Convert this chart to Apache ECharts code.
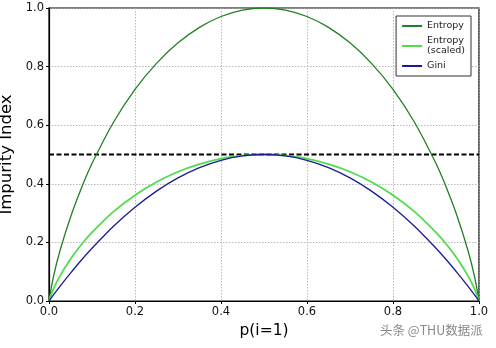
<!DOCTYPE html>
<html><head><meta charset="utf-8">
<script src="https://cdn.jsdelivr.net/npm/echarts@6/dist/echarts.min.js"></script>
<style>html,body{margin:0;padding:0;background:#fff}#c{width:496px;height:348px}</style>
</head><body><div id="c"></div>
<script>
const pValues = [0, 0.01, 0.025, 0.05, 0.075, 0.1, 0.15, 0.2, 0.25, 0.3, 0.35, 0.4, 0.45, 0.5, 0.55, 0.6, 0.65, 0.7, 0.75, 0.8, 0.85, 0.9, 0.925, 0.95, 0.975, 0.99, 1];
const entropyValues = [0, 0.081, 0.169, 0.286, 0.384, 0.469, 0.610, 0.722, 0.811, 0.881, 0.934, 0.971, 0.993, 1.0, 0.993, 0.971, 0.934, 0.881, 0.811, 0.722, 0.610, 0.469, 0.384, 0.286, 0.169, 0.081, 0];
const scaledValues = [0, 0.040, 0.084, 0.143, 0.192, 0.234, 0.305, 0.361, 0.406, 0.441, 0.467, 0.486, 0.496, 0.5, 0.496, 0.486, 0.467, 0.441, 0.406, 0.361, 0.305, 0.234, 0.192, 0.143, 0.084, 0.040, 0];
const giniValues = [0, 0.020, 0.049, 0.095, 0.139, 0.180, 0.255, 0.320, 0.375, 0.420, 0.455, 0.480, 0.495, 0.5, 0.495, 0.480, 0.455, 0.420, 0.375, 0.320, 0.255, 0.180, 0.139, 0.095, 0.049, 0.020, 0];
const thresholdX = [0, 1];
const thresholdY = [0.5, 0.5];
const seriesNames = ['Entropy', 'Entropy\n(scaled)', 'Gini'];
const xTitle = 'p(i=1)';
const yTitle = 'Impurity Index';
const watermark = '头条 @THU数据派';

const pair = (xs, ys) => xs.map((x, i) => [x, ys[i]]);
const chart = echarts.init(document.getElementById('c'));
const font = 'DejaVu Sans';
const axisCommon = {
  type: 'value', min: 0, max: 1, interval: 0.2,
  axisLine: { show: true, lineStyle: { color: '#000', width: 1.2 } },
  axisTick: { show: true, length: 3, lineStyle: { color: '#000' } },
  splitLine: { show: true, lineStyle: { color: '#aaa', type: [1.5, 1.5], width: 0.8 } },
  axisLabel: { color: '#111', fontSize: 11.5, fontFamily: font, formatter: v => v.toFixed(1) },
  nameLocation: 'middle',
  nameTextStyle: { color: '#000', fontSize: 15.5, fontFamily: font }
};
chart.setOption({
  animation: false,
  backgroundColor: '#fff',
  grid: { left: 49, right: 17, top: 8, bottom: 47, show: true, borderColor: '#000', borderWidth: 1.2, containLabel: false, outerBoundsMode: 'none' },
  xAxis: Object.assign({}, axisCommon, { name: xTitle, nameGap: 17, axisLabel: Object.assign({}, axisCommon.axisLabel, { margin: 5 }) }),
  yAxis: Object.assign({}, axisCommon, { name: yTitle, nameGap: 25, nameTextStyle: { color: '#000', fontSize: 16.5, fontFamily: font }, axisLabel: Object.assign({}, axisCommon.axisLabel, { margin: 5 }) }),
  legend: {
    data: seriesNames, orient: 'vertical', right: 25, top: 16,
    backgroundColor: '#fff', borderColor: '#333', borderWidth: 1, borderRadius: 0,
    padding: [5, 6, 5, 6], itemGap: 5, itemWidth: 20, itemHeight: 2, icon: 'rect',
    textStyle: { fontSize: 9.5, fontFamily: font, color: '#222', lineHeight: 10 }
  },
  graphic: [{ type: 'text', left: 380, top: 324, style: { text: watermark, fill: '#888', fontSize: 12.5, fontFamily: 'Noto Sans CJK SC' } }],
  series: [
    { name: seriesNames[0], type: 'line', data: pair(pValues, entropyValues), smooth: 0.3, symbol: 'none', lineStyle: { color: '#227f22', width: 1.3 }, itemStyle: { color: '#227f22' } },
    { name: seriesNames[1], type: 'line', data: pair(pValues, scaledValues), smooth: 0.3, symbol: 'none', lineStyle: { color: '#4fdc4f', width: 1.8 }, itemStyle: { color: '#4fdc4f' } },
    { name: seriesNames[2], type: 'line', data: pair(pValues, giniValues), smooth: 0.3, symbol: 'none', lineStyle: { color: '#1a1a96', width: 1.3 }, itemStyle: { color: '#1a1a96' } },
    { name: 'threshold', type: 'line', data: pair(thresholdX, thresholdY), symbol: 'none', silent: true, lineStyle: { color: '#000', width: 2, type: [5, 2.5] }, z: 1 }
  ]
});
</script></body></html>
